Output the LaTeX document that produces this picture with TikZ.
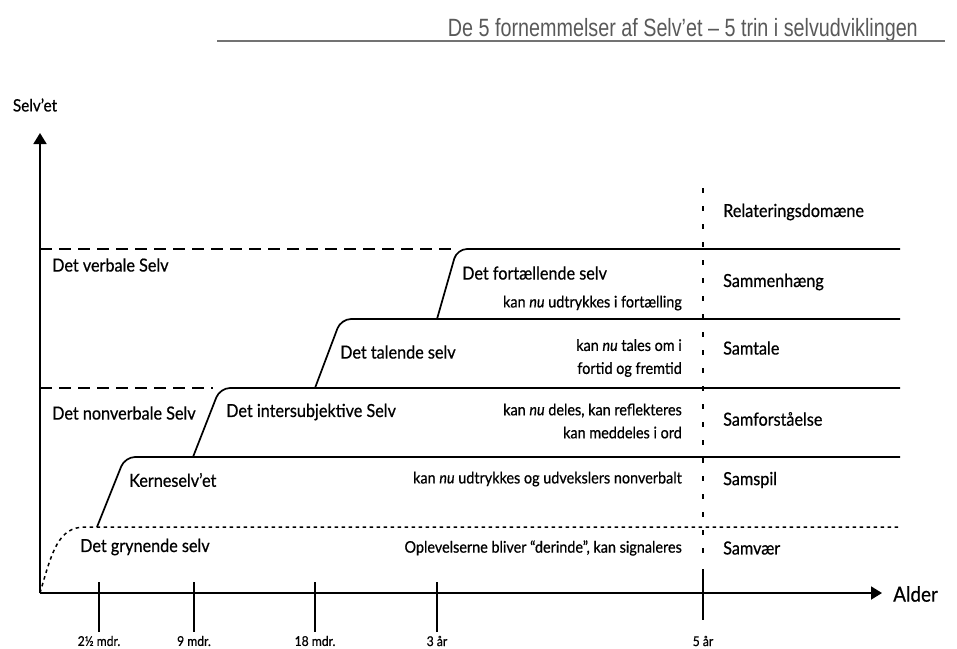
\documentclass[tikz,border=0pt]{standalone}
\usepackage{fontspec}
\setmainfont{Lato}[FakeStretch=0.9,FakeBold=0.6]
\newfontfamily\titlefont[FakeStretch=0.79]{Liberation Sans}
\usetikzlibrary{arrows.meta}
\begin{document}
\begin{tikzpicture}[x=1pt,y=-1pt,
  axisline/.style={line width=1.8pt,-{Triangle[width=13pt,length=11pt]}},
  stepline/.style={line width=1.7pt,rounded corners=10pt},
  dashline/.style={line width=1.7pt,dash pattern=on 12pt off 7pt},
  dotline/.style={line width=1.5pt,dash pattern=on 3.5pt off 3.5pt},
  vdash/.style={line width=1.3pt,dash pattern=on 5pt off 13pt},
  tickline/.style={line width=1.5pt},
  lab/.style={font=\fontsize{18}{20}\selectfont,inner sep=0pt,anchor=west},
  desc/.style={font=\fontsize{16}{23}\selectfont,inner sep=0pt,anchor=east,align=right},
  ticklab/.style={font=\fontsize{13.5}{15}\selectfont,inner sep=0pt},
]
\useasboundingbox (0,0) rectangle (957,648);
% header
\node[anchor=base east,inner sep=0pt,text=black!65] (title) at (918,36)
  {\titlefont\fontsize{25}{28}\selectfont De 5 fornemmelser af Selv’et – 5 trin i selvudviklingen};
\coordinate (h1) at (217,41);
\coordinate (h2) at (945,41);
\draw[black!55,line width=1.2pt] (h1) -- (h2);

% axes
\coordinate (O) at (40,593);
\coordinate (ytop) at (40,133);
\coordinate (xend) at (882,593);
\draw[axisline] (O) -- (ytop);
\draw[axisline] (O) -- (xend);
\node[lab,anchor=center,font=\fontsize{17}{20}\selectfont] (ylab) at (35,105) {Selv’et};
\node[lab,font=\fontsize{21}{24}\selectfont] (xlab) at (893,594) {Alder};

% level coordinates
\coordinate (d1) at (40,249);
\coordinate (d2) at (40,388);

% dotted base
\coordinate (g1) at (85,527);
\coordinate (g2) at (900,527);
\draw[dotline] (O) .. controls (52,552) and (58,527) .. (g1) -- (g2);

% Kerneselv
\coordinate (k0) at (97,527);
\coordinate (kc) at (125,457);
\coordinate (k1) at (900,457);
\draw[stepline] (k0) -- (kc) -- (k1);
% intersubjektive
\coordinate (i0) at (193,457);
\coordinate (ic) at (220,388);
\coordinate (i1) at (900,388);
\draw[stepline] (i0) -- (ic) -- (i1);
\draw[dashline] (d2) -- (213,388);
% talende
\coordinate (t0) at (315,388);
\coordinate (tc) at (341,319);
\coordinate (t1) at (900,319);
\draw[stepline] (t0) -- (tc) -- (t1);
% fortaellende
\coordinate (f0) at (437,319);
\coordinate (fc) at (457,249);
\coordinate (f1) at (900,249);
\draw[stepline] (f0) -- (fc) -- (f1);
\draw[dashline] (d1) -- (452,249);

% vertical 5 aar
\coordinate (v0) at (703,188);
\coordinate (v1) at (703,562);
\draw[vdash] (v0) -- (v1);

% ticks
\foreach \n/\x/\t in {a/99/2½ mdr., b/194/9 mdr., c/315/18 mdr., d/437/3 år}{
  \coordinate (tk\n1) at (\x,582);
  \coordinate (tk\n2) at (\x,632);
  \draw[tickline] (tk\n1) -- (tk\n2);
  \node[ticklab] (tl\n) at (\x,641) {\t};
}
\coordinate (tke1) at (703,569);
\coordinate (tke2) at (703,620);
\draw[tickline] (tke1) -- (tke2);
\node[ticklab] (tle) at (703,641) {5 år};

% left labels
\node[lab] (verb) at (52,265) {Det verbale Selv};
\node[lab] (nonv) at (52,413) {Det nonverbale Selv};
\node[lab] (inter) at (226,412) {Det intersubjektive Selv};
\node[lab] (kern) at (129,480) {Kerneselv’et};
\node[lab] (gryn) at (80,547) {Det grynende selv};
\node[lab] (tal) at (340,352) {Det talende selv};
\node[lab] (fort) at (462,273) {Det fortællende selv};

% descriptions
\node[desc] (dfort) at (682,303) {kan \textit{nu} udtrykkes i fortælling};
\node[desc] (dtal) at (682,358) {kan \textit{nu} tales om i\\fortid og fremtid};
\node[desc] (dint) at (682,421) {kan \textit{nu} deles, kan reflekteres\\kan meddeles i ord};
\node[desc] (dker) at (682,479) {kan \textit{nu} udtrykkes og udvekslers nonverbalt};
\node[desc] (dgry) at (682,548) {Oplevelserne bliver “derinde”, kan signaleres};

% domains
\node[lab] (rel) at (723,212) {Relateringsdomæne};
\node[lab] (sam1) at (723,282) {Sammenhæng};
\node[lab] (sam2) at (723,348) {Samtale};
\node[lab] (sam3) at (723,419) {Samforståelse};
\node[lab] (sam4) at (723,480) {Samspil};
\node[lab] (sam5) at (723,548) {Samvær};
\end{tikzpicture}
\end{document}
